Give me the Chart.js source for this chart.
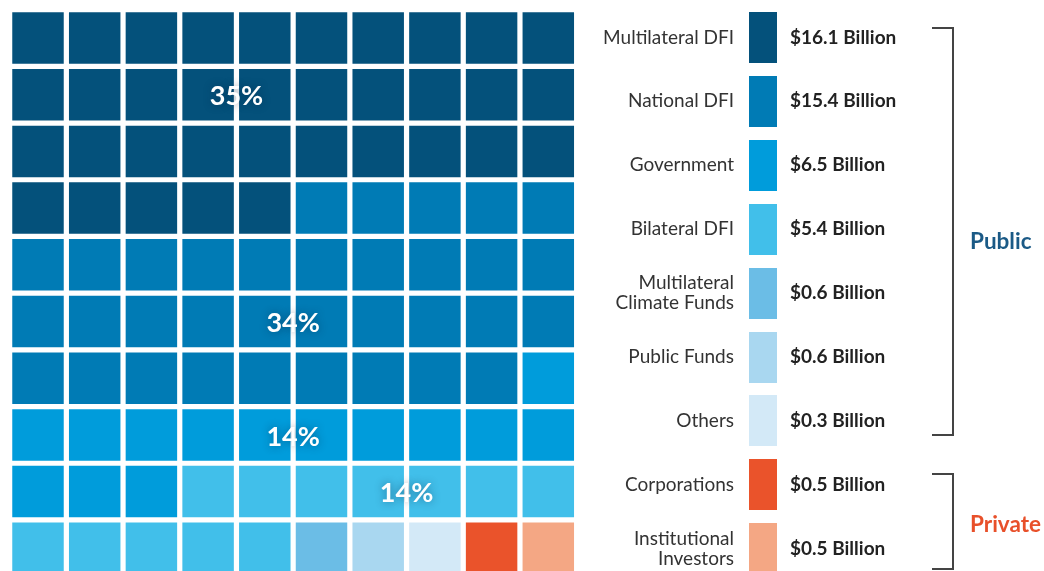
<!DOCTYPE html>
<html>
<head>
<meta charset="utf-8">
<script src="https://cdn.jsdelivr.net/npm/chart.js@4.4.0/dist/chart.umd.min.js"></script>
<style>
  html, body { margin: 0; padding: 0; background: #fff; overflow: hidden; }
  body { width: 1044px; height: 571px; position: relative; font-family: Lato, "Open Sans", sans-serif; }
  #waffleBox { position: absolute; left: 0; top: 0; width: 590px; height: 590px; }
  .row { position: absolute; left: 590px; width: 454px; height: 51px; }
  .lbl { position: absolute; right: 310px; width: 200px; text-align: right; color: #333; font-size: 19px;
         white-space: pre-line; line-height: 20px; top: 50%; transform: translateY(calc(-50% - 1.5px)); }
  .sw { position: absolute; left: 159px; top: 0; width: 28px; height: 51px; }
  .val { position: absolute; left: 200px; width: 200px; font-weight: bold; color: #222; font-size: 19px;
         top: 50%; transform: translateY(calc(-50% - 1.5px)); white-space: nowrap; }
  .brk { position: absolute; border: 2px solid #444; border-left: none; width: 20px; }
  .grp { position: absolute; left: 970px; font-weight: bold; font-size: 22.5px; transform: translateY(-50%); }
</style>
</head>
<body>
<div id="waffleBox"><canvas id="waffle"></canvas></div>
<div id="legend"></div>
<script>
// data
const categories = ["Multilateral DFI", "National DFI", "Government", "Bilateral DFI",
  "Multilateral\nClimate Funds", "Public Funds", "Others", "Corporations", "Institutional\nInvestors"];
const valuesBillion = [16.1, 15.4, 6.5, 5.4, 0.6, 0.6, 0.3, 0.5, 0.5];
const cellCounts = [35, 34, 14, 12, 1, 1, 1, 1, 1];
const colors = ["#04517b", "#007bb5", "#009cdb", "#41bfea", "#6bbde6", "#a9d7f0", "#d3e9f7", "#ea532b", "#f4a784"];
const shareLabels = ["35%", "34%", "14%", "14%"];
const shareAnchors = [[3.5, 1], [4.5, 5], [4.5, 7], [6.5, 8]]; // grid col,row of each label

// waffle cells, 10 per row, filled in category order
const cells = [];
const cellColors = [];
let n = 0;
cellCounts.forEach((c, k) => {
  for (let i = 0; i < c; i++) {
    cells.push({ x: n % 10, y: Math.floor(n / 10) });
    cellColors.push(colors[k]);
    n++;
  }
});

const shareLabelPlugin = {
  id: "shareLabels",
  afterDatasetsDraw(chart) {
    const ctx = chart.ctx;
    const xs = chart.scales.x, ys = chart.scales.y;
    ctx.save();
    ctx.font = "bold 27px Lato, sans-serif";
    ctx.fillStyle = "#fff";
    ctx.textAlign = "center";
    ctx.textBaseline = "middle";
    ctx.shadowColor = "rgba(0,30,60,0.45)";
    ctx.shadowBlur = 8;
    shareLabels.forEach((t, i) => {
      ctx.fillText(t, xs.getPixelForValue(shareAnchors[i][0]), ys.getPixelForValue(shareAnchors[i][1]) + 2);
    });
    ctx.restore();
  }
};

new Chart(document.getElementById("waffle"), {
  type: "scatter",
  data: {
    datasets: [{
      data: cells,
      pointStyle: "rect",
      pointRadius: 36.4,
      pointHoverRadius: 36.4,
      pointBorderWidth: 0,
      backgroundColor: cellColors,
      clip: false
    }]
  },
  options: {
    responsive: true,
    maintainAspectRatio: false,
    animation: false,
    events: [],
    layout: { autoPadding: false, padding: { left: 9.65, top: 9.65, right: 13.35, bottom: 13.35 } },
    plugins: { legend: { display: false }, tooltip: { enabled: false } },
    scales: {
      x: { display: false, min: -0.5, max: 9.5 },
      y: { display: false, min: -0.5, max: 9.5, reverse: true }
    }
  },
  plugins: [shareLabelPlugin]
});

// legend at the right
const legend = document.getElementById("legend");
const rowTop = i => 12 + i * 63.9;
categories.forEach((c, i) => {
  const r = document.createElement("div");
  r.className = "row";
  r.style.top = rowTop(i) + "px";
  r.innerHTML = '<div class="lbl"></div><div class="sw"></div><div class="val"></div>';
  r.querySelector(".lbl").textContent = c;
  r.querySelector(".sw").style.background = colors[i];
  r.querySelector(".val").textContent = "$" + valuesBillion[i].toFixed(1) + " Billion";
  legend.appendChild(r);
});

function bracket(top, bottom, labelY, name, color) {
  const b = document.createElement("div");
  b.className = "brk";
  b.style.left = "932px";
  b.style.top = top + "px";
  b.style.height = (bottom - top) + "px";
  legend.appendChild(b);
  const g = document.createElement("div");
  g.className = "grp";
  g.style.top = labelY + "px";
  g.style.color = color;
  g.textContent = name;
  legend.appendChild(g);
}
bracket(27, 432, 240, "Public", "#1b5a86");
bracket(473, 566, 523, "Private", "#e8502a");
</script>
</body>
</html>
